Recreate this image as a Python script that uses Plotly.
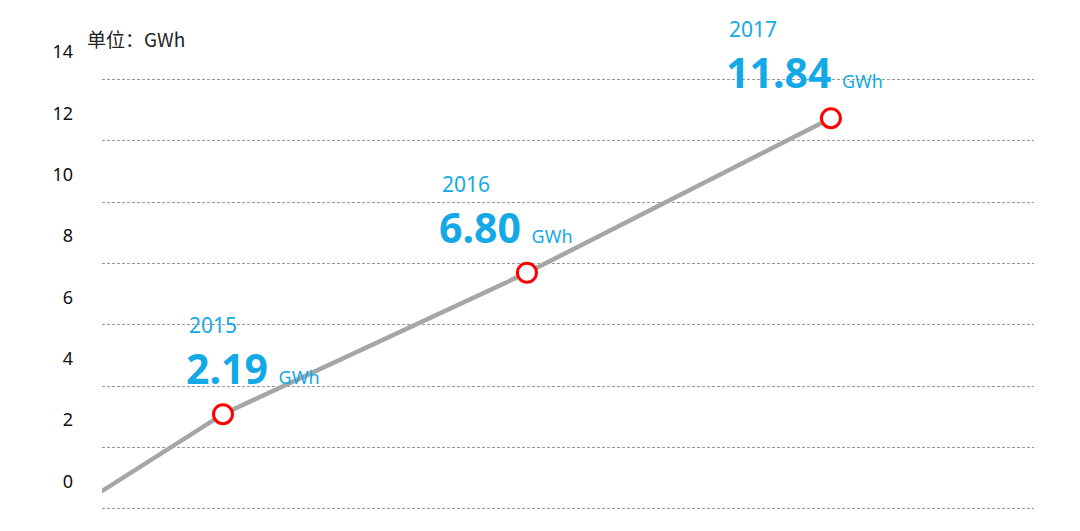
"""Courbe de la capacité installée (GWh), 2015-2017."""

import plotly.graph_objects as go

# donnees
years = [2015, 2016, 2017]
values = [2.19, 6.80, 11.84]
# la ligne part du bord gauche du graphique
line_x = [2014.6, 2015, 2016, 2017]
line_y = [-0.33, 2.19, 6.80, 11.84]
y_ticks = [0, 2, 4, 6, 8, 10, 12, 14]
unit = "GWh"

blue = "#14A9E6"

fig = go.Figure()

fig.add_trace(go.Scatter(
    x=line_x, y=line_y, mode="lines",
    line=dict(color="#A6A6A6", width=4.5),
    hoverinfo="skip", showlegend=False,
))
fig.add_trace(go.Scatter(
    x=years, y=values, mode="markers",
    marker=dict(symbol="circle", size=19, color="white",
                line=dict(color="#FF0000", width=3)),
    showlegend=False,
))

# decalages des etiquettes par rapport aux points (pixels)
x_shifts = [-36, -87, -104]
for yr, v, dx in zip(years, values, x_shifts):
    fig.add_annotation(
        x=yr, y=v, xref="x", yref="y", text=str(yr), showarrow=False,
        xanchor="left", yanchor="middle", xshift=dx, yshift=89,
        font=dict(size=21, color=blue, family="Noto Sans"),
    )
    fig.add_annotation(
        x=yr, y=v, xref="x", yref="y",
        text="<b>%.2f</b> <span style='font-size:18px'>%s</span>" % (v, unit),
        showarrow=False, xanchor="left", yanchor="middle",
        xshift=dx - 3, yshift=46,
        font=dict(size=41, color=blue, family="Noto Sans"),
    )

fig.add_annotation(
    x=0, y=1, xref="paper", yref="paper", text="单位：GWh", showarrow=False,
    xanchor="left", yanchor="middle", xshift=-17, yshift=2,
    font=dict(size=19, color="#222222", family="Noto Sans CJK SC"),
)

# la page a une marge de 8 px autour de la figure
fig.update_layout(
    width=1072, height=523,
    margin=dict(l=94, r=46, t=32, b=19),
    paper_bgcolor="white", plot_bgcolor="white",
    font=dict(family="Noto Sans", color="#111111"),
    xaxis=dict(range=[2014.602, 2017.668], showgrid=False, zeroline=False,
               showticklabels=False, showline=False),
    yaxis=dict(range=[-1.0, 14.39], tickvals=y_ticks, showgrid=False,
               zeroline=False, showline=False, ticklabelstandoff=28,
               tickfont=dict(size=18, color="#111111"),
               minor=dict(tick0=-0.9, dtick=2, showgrid=True,
                          gridcolor="#999999", gridwidth=1,
                          griddash="3px,2px")),
)

fig.write_html("out.html")
